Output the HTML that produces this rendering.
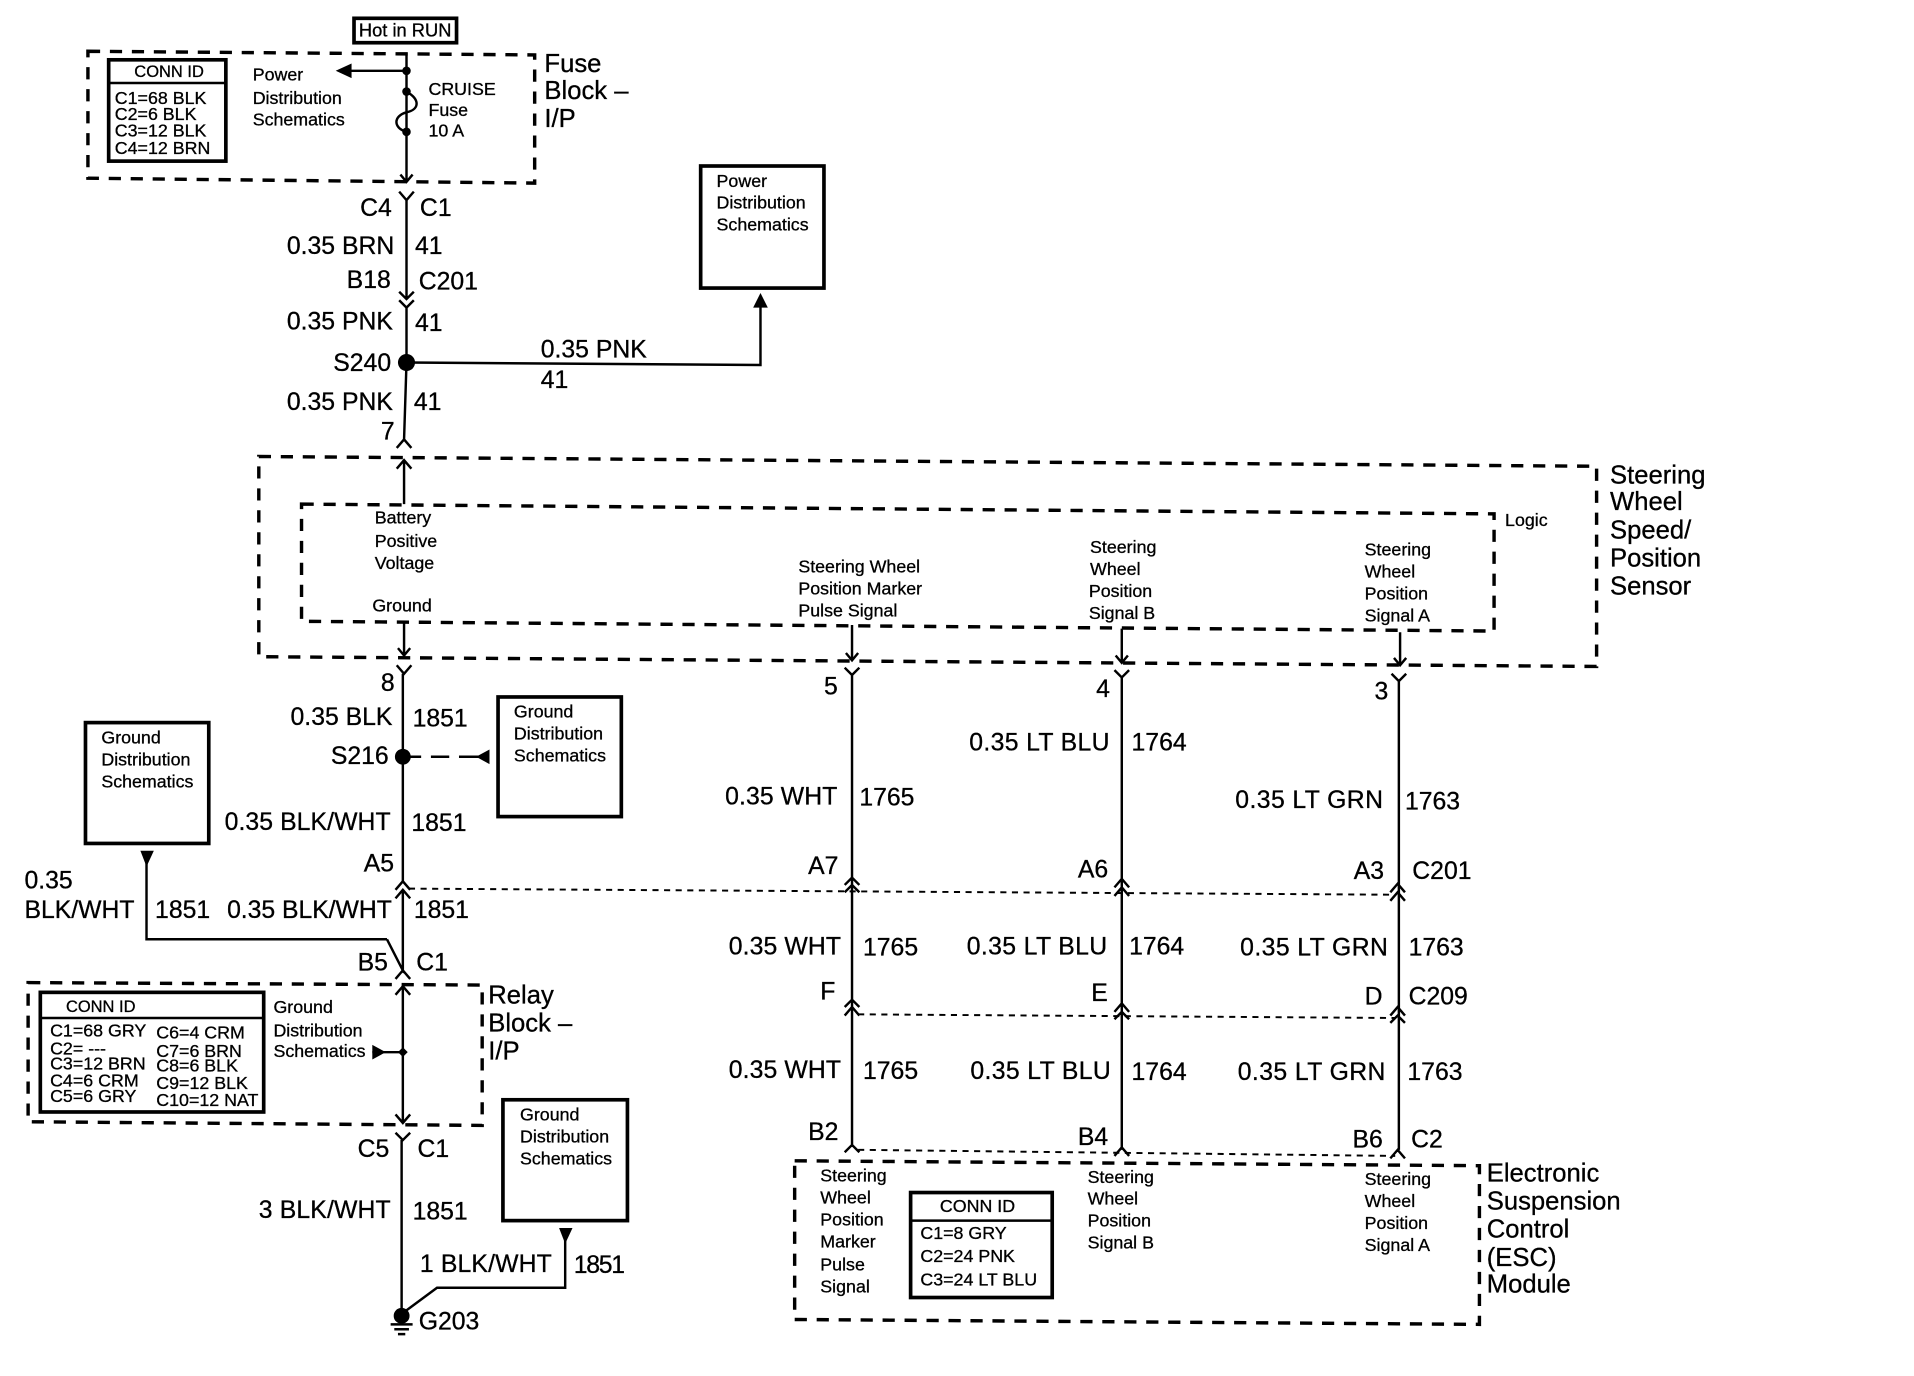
<!DOCTYPE html>
<html><head><meta charset="utf-8"><style>
html,body{margin:0;padding:0;background:#fff}
svg{display:block}
text{font-family:"Liberation Sans",sans-serif;fill:#000;stroke:#000;stroke-width:.25}
.b text{font-size:20.3px}
.l text{font-size:21px}
.s text{font-size:14.6px}
.w{fill:none;stroke:#000;stroke-width:2}
.d{fill:none;stroke:#000;stroke-width:2.8;stroke-dasharray:10 8}
.t{fill:none;stroke:#000;stroke-width:1.6;stroke-dasharray:5 4.5}
.r{fill:#fff;stroke:#000;stroke-width:3}
</style></head><body>
<svg width="1914" height="1376" viewBox="0 0 1568 1127.3" xmlns="http://www.w3.org/2000/svg">
<rect width="1568" height="1128" fill="#fff"/>
<!-- dashed enclosures -->
<path class="d" d="M72 42L438 45V150L72 146Z"/>
<path class="d" d="M212 374L1308 382V546L212 538Z"/>
<path class="d" d="M247 413L1224 421V517L247 509Z"/>
<path class="d" d="M23 805L395 807V922L23 919Z"/>
<path class="d" d="M651 951L1212 955V1085L651 1081Z"/>
<!-- thin shield lines -->
<path class="t" d="M335 728L1140 733"/>
<path class="t" d="M703 831L1143 834"/>
<path class="t" d="M703 942L1143 947"/>
<!-- boxes -->
<rect class="r" x="290" y="15" width="84" height="20"/>
<rect class="r" x="89" y="49" width="96" height="83"/><path class="w" stroke-width="3" d="M89 68H185"/>
<rect class="r" x="574" y="136" width="101" height="100"/>
<rect class="r" x="70" y="592" width="101" height="99"/>
<rect class="r" x="408" y="571" width="101" height="98"/>
<rect class="r" x="33" y="813" width="183" height="98"/><path class="w" stroke-width="3" d="M33 834H216"/>
<rect class="r" x="412" y="901" width="102" height="99"/>
<rect class="r" x="746" y="977" width="116" height="86"/><path class="w" stroke-width="3" d="M746 1000H862"/>
<!-- wires -->
<path class="w" d="M333 43V149M328 143L333 149L338 143M327 157L333 164L339 157V157M333 164V245M327 239L333 245L339 239M327 246L333 252L339 246M333 252V297L331 360M325 367L331 360L337 367M331 413V377M325 384L331 377L337 384"/>
<path class="w" d="M333 58H285M333 75C345 82 343 90 333 92C322 95 322 105 333 108"/>
<path class="w" d="M333 297L623 299V250"/>
<path class="w" d="M331 509V537M326 531L331 537L336 531M325 545L331 552L337 545M330 552V722M324 729L330 722L336 729M324 736L330 729L336 736M330 729V796M317 769.500L331 797M324 802L330 795L336 802M324 815L330 808L336 815M330 808V920M324 913L330 920L336 913M324 928L330 934L336 928M329 934V1075"/>
<path class="w" d="M120 706V769.500H317"/>
<path class="w" d="M463 1014V1055H358L331 1075"/>
<path class="w" d="M330 620H345M353 620H368M376 620H392" stroke-width="2.4"/>
<path class="w" d="M305 862H330"/>
<path class="w" d="M698 512V541M693 535L698 541L703 535M692 547L698 553L704 547M698 553V830M692 725L698 719L704 725M692 731L698 725L704 731M692 825L698 819L704 825M692 832L698 825L704 832M698 825V938M692 944L698 938L704 944"/>
<path class="w" d="M919 515V543M914 537L919 543L924 537M913 549L919 555L925 549M919 555V942M913 727L919 720L925 727M913 734L919 727L925 734M913 829L919 822L925 829M913 835L919 829L925 835M913 947L919 940L925 947"/>
<path class="w" d="M1147 518V545M1142 539L1147 545L1152 539M1140 552L1146 558L1152 552M1146 558V942M1139 731L1145 724L1151 731M1139 738L1145 731L1151 738M1139 832L1145 825L1151 832M1139 838L1145 832L1151 838M1139 949L1145 942L1151 949"/>
<!-- dots and arrowheads -->
<circle cx="333" cy="58" r="3.500"/><circle cx="333" cy="75" r="3.500"/><circle cx="333" cy="108" r="3.500"/>
<circle cx="333" cy="297" r="7"/><circle cx="330" cy="620" r="6.500"/>
<path d="M330 858L334 862L330 866L326 862Z"/>
<circle cx="329" cy="1078" r="6.500"/>
<path class="w" d="M320 1085H338M323 1089H335M326 1093H332"/>
<path d="M275 58L288 52V64Z"/><path d="M623 240L617 252H629Z"/>
<path d="M115 697H126L120 710Z"/><path d="M458 1006H469L463 1019Z"/>
<path d="M390 620L401 614V626Z"/><path d="M316 862L305 856V868Z"/>
<!-- small text -->
<g class="s">
<text x="294" y="30" style="font-size:15px">Hot in RUN</text>
<text x="110" y="63" style="font-size:13.500px">CONN ID</text>
<text x="94" y="85">C1=68 BLK</text><text x="94" y="98.500">C2=6 BLK</text><text x="94" y="112">C3=12 BLK</text><text x="94" y="126">C4=12 BRN</text>
<text x="207" y="66">Power</text><text x="207" y="85">Distribution</text><text x="207" y="103">Schematics</text>
<text x="351" y="78">CRUISE</text><text x="351" y="95">Fuse</text><text x="351" y="112">10 A</text>
<text x="587" y="153">Power</text><text x="587" y="171">Distribution</text><text x="587" y="189">Schematics</text>
<text x="307" y="429">Battery</text><text x="307" y="448">Positive</text><text x="307" y="466">Voltage</text><text x="305" y="501">Ground</text>
<text x="1233" y="431">Logic</text>
<text x="654" y="469">Steering Wheel</text><text x="654" y="487">Position Marker</text><text x="654" y="505">Pulse Signal</text>
<text x="893" y="453">Steering</text><text x="893" y="471">Wheel</text><text x="892" y="489">Position</text><text x="892" y="507">Signal B</text>
<text x="1118" y="455">Steering</text><text x="1118" y="473">Wheel</text><text x="1118" y="491">Position</text><text x="1118" y="509">Signal A</text>
<text x="421" y="588">Ground</text><text x="421" y="606">Distribution</text><text x="421" y="624">Schematics</text>
<text x="83" y="609">Ground</text><text x="83" y="627">Distribution</text><text x="83" y="645">Schematics</text>
<text x="54" y="829" style="font-size:13.500px">CONN ID</text>
<text x="41" y="849">C1=68 GRY</text><text x="41" y="864">C2= ---</text><text x="41" y="876">C3=12 BRN</text><text x="41" y="890">C4=6 CRM</text><text x="41" y="903">C5=6 GRY</text>
<text x="128" y="851">C6=4 CRM</text><text x="128" y="866">C7=6 BRN</text><text x="128" y="878">C8=6 BLK</text><text x="128" y="892">C9=12 BLK</text><text x="128" y="906">C10=12 NAT</text>
<text x="224" y="830">Ground</text><text x="224" y="849">Distribution</text><text x="224" y="866">Schematics</text>
<text x="426" y="918">Ground</text><text x="426" y="936">Distribution</text><text x="426" y="954">Schematics</text>
<text x="672" y="968">Steering</text><text x="672" y="986">Wheel</text><text x="672" y="1004">Position</text><text x="672" y="1022">Marker</text><text x="672" y="1041">Pulse</text><text x="672" y="1059">Signal</text>
<text x="891" y="969">Steering</text><text x="891" y="987">Wheel</text><text x="891" y="1005">Position</text><text x="891" y="1023">Signal B</text>
<text x="1118" y="971">Steering</text><text x="1118" y="989">Wheel</text><text x="1118" y="1007">Position</text><text x="1118" y="1025">Signal A</text>
<text x="770" y="993">CONN ID</text><text x="754" y="1015">C1=8 GRY</text><text x="754" y="1034">C2=24 PNK</text><text x="754" y="1053">C3=24 LT BLU</text>
</g>
<!-- large labels -->
<g class="l">
<text x="446" y="59">Fuse</text><text x="446" y="81">Block –</text><text x="446" y="104">I/P</text>
<text x="1319" y="396">Steering</text><text x="1319" y="418">Wheel</text><text x="1319" y="441">Speed/</text><text x="1319" y="464">Position</text><text x="1319" y="487">Sensor</text>
<text x="400" y="822">Relay</text><text x="400" y="845">Block –</text><text x="400" y="868">I/P</text>
<text x="1218" y="968">Electronic</text><text x="1218" y="991">Suspension</text><text x="1218" y="1014">Control</text><text x="1218" y="1037">(ESC)</text><text x="1218" y="1059">Module</text>
</g>
<!-- wire labels -->
<g class="b">
<text x="295" y="177">C4</text><text x="344" y="177">C1</text>
<text x="235" y="208">0.35 BRN</text><text x="340" y="208">41</text>
<text x="284" y="236">B18</text><text x="343" y="237">C201</text>
<text x="235" y="270">0.35 PNK</text><text x="340" y="271">41</text>
<text x="273" y="304">S240</text>
<text x="443" y="293">0.35 PNK</text><text x="443" y="318">41</text>
<text x="235" y="336">0.35 PNK</text><text x="339" y="336">41</text>
<text x="312" y="360">7</text>
<text x="312" y="566">8</text>
<text x="238" y="594">0.35 BLK</text><text x="338" y="595">1851</text>
<text x="271" y="626">S216</text>
<text x="184" y="680" textLength="136">0.35 BLK/WHT</text><text x="337" y="681">1851</text>
<text x="298" y="714">A5</text>
<text x="20" y="728">0.35</text><text x="20" y="752">BLK/WHT</text><text x="127" y="752">1851</text>
<text x="186" y="752" textLength="135">0.35 BLK/WHT</text><text x="339" y="752">1851</text>
<text x="293" y="795">B5</text><text x="341" y="795">C1</text>
<text x="293" y="948">C5</text><text x="342" y="948">C1</text>
<text x="212" y="998" textLength="108">3 BLK/WHT</text><text x="338" y="999">1851</text>
<text x="344" y="1042" textLength="108">1 BLK/WHT</text><text x="470" y="1043" textLength="42">1851</text>
<text x="343" y="1089">G203</text>
<text x="675" y="569">5</text>
<text x="594" y="659" textLength="92">0.35 WHT</text><text x="704" y="660">1765</text>
<text x="662" y="716">A7</text>
<text x="597" y="782" textLength="92">0.35 WHT</text><text x="707" y="783">1765</text>
<text x="672" y="819">F</text>
<text x="597" y="883" textLength="92">0.35 WHT</text><text x="707" y="884">1765</text>
<text x="662" y="934">B2</text>
<text x="898" y="571">4</text>
<text x="794" y="615" textLength="115">0.35 LT BLU</text><text x="927" y="615">1764</text>
<text x="883" y="719">A6</text>
<text x="792" y="782" textLength="115">0.35 LT BLU</text><text x="925" y="782">1764</text>
<text x="894" y="820">E</text>
<text x="795" y="884" textLength="115">0.35 LT BLU</text><text x="927" y="885">1764</text>
<text x="883" y="938">B4</text>
<text x="1126" y="573">3</text>
<text x="1012" y="662" textLength="121">0.35 LT GRN</text><text x="1151" y="663">1763</text>
<text x="1109" y="720">A3</text><text x="1157" y="720">C201</text>
<text x="1016" y="783" textLength="121">0.35 LT GRN</text><text x="1154" y="783">1763</text>
<text x="1118" y="823">D</text><text x="1154" y="823">C209</text>
<text x="1014" y="885" textLength="121">0.35 LT GRN</text><text x="1153" y="885">1763</text>
<text x="1108" y="940">B6</text><text x="1156" y="940">C2</text>
</g>
</svg>
</body></html>
